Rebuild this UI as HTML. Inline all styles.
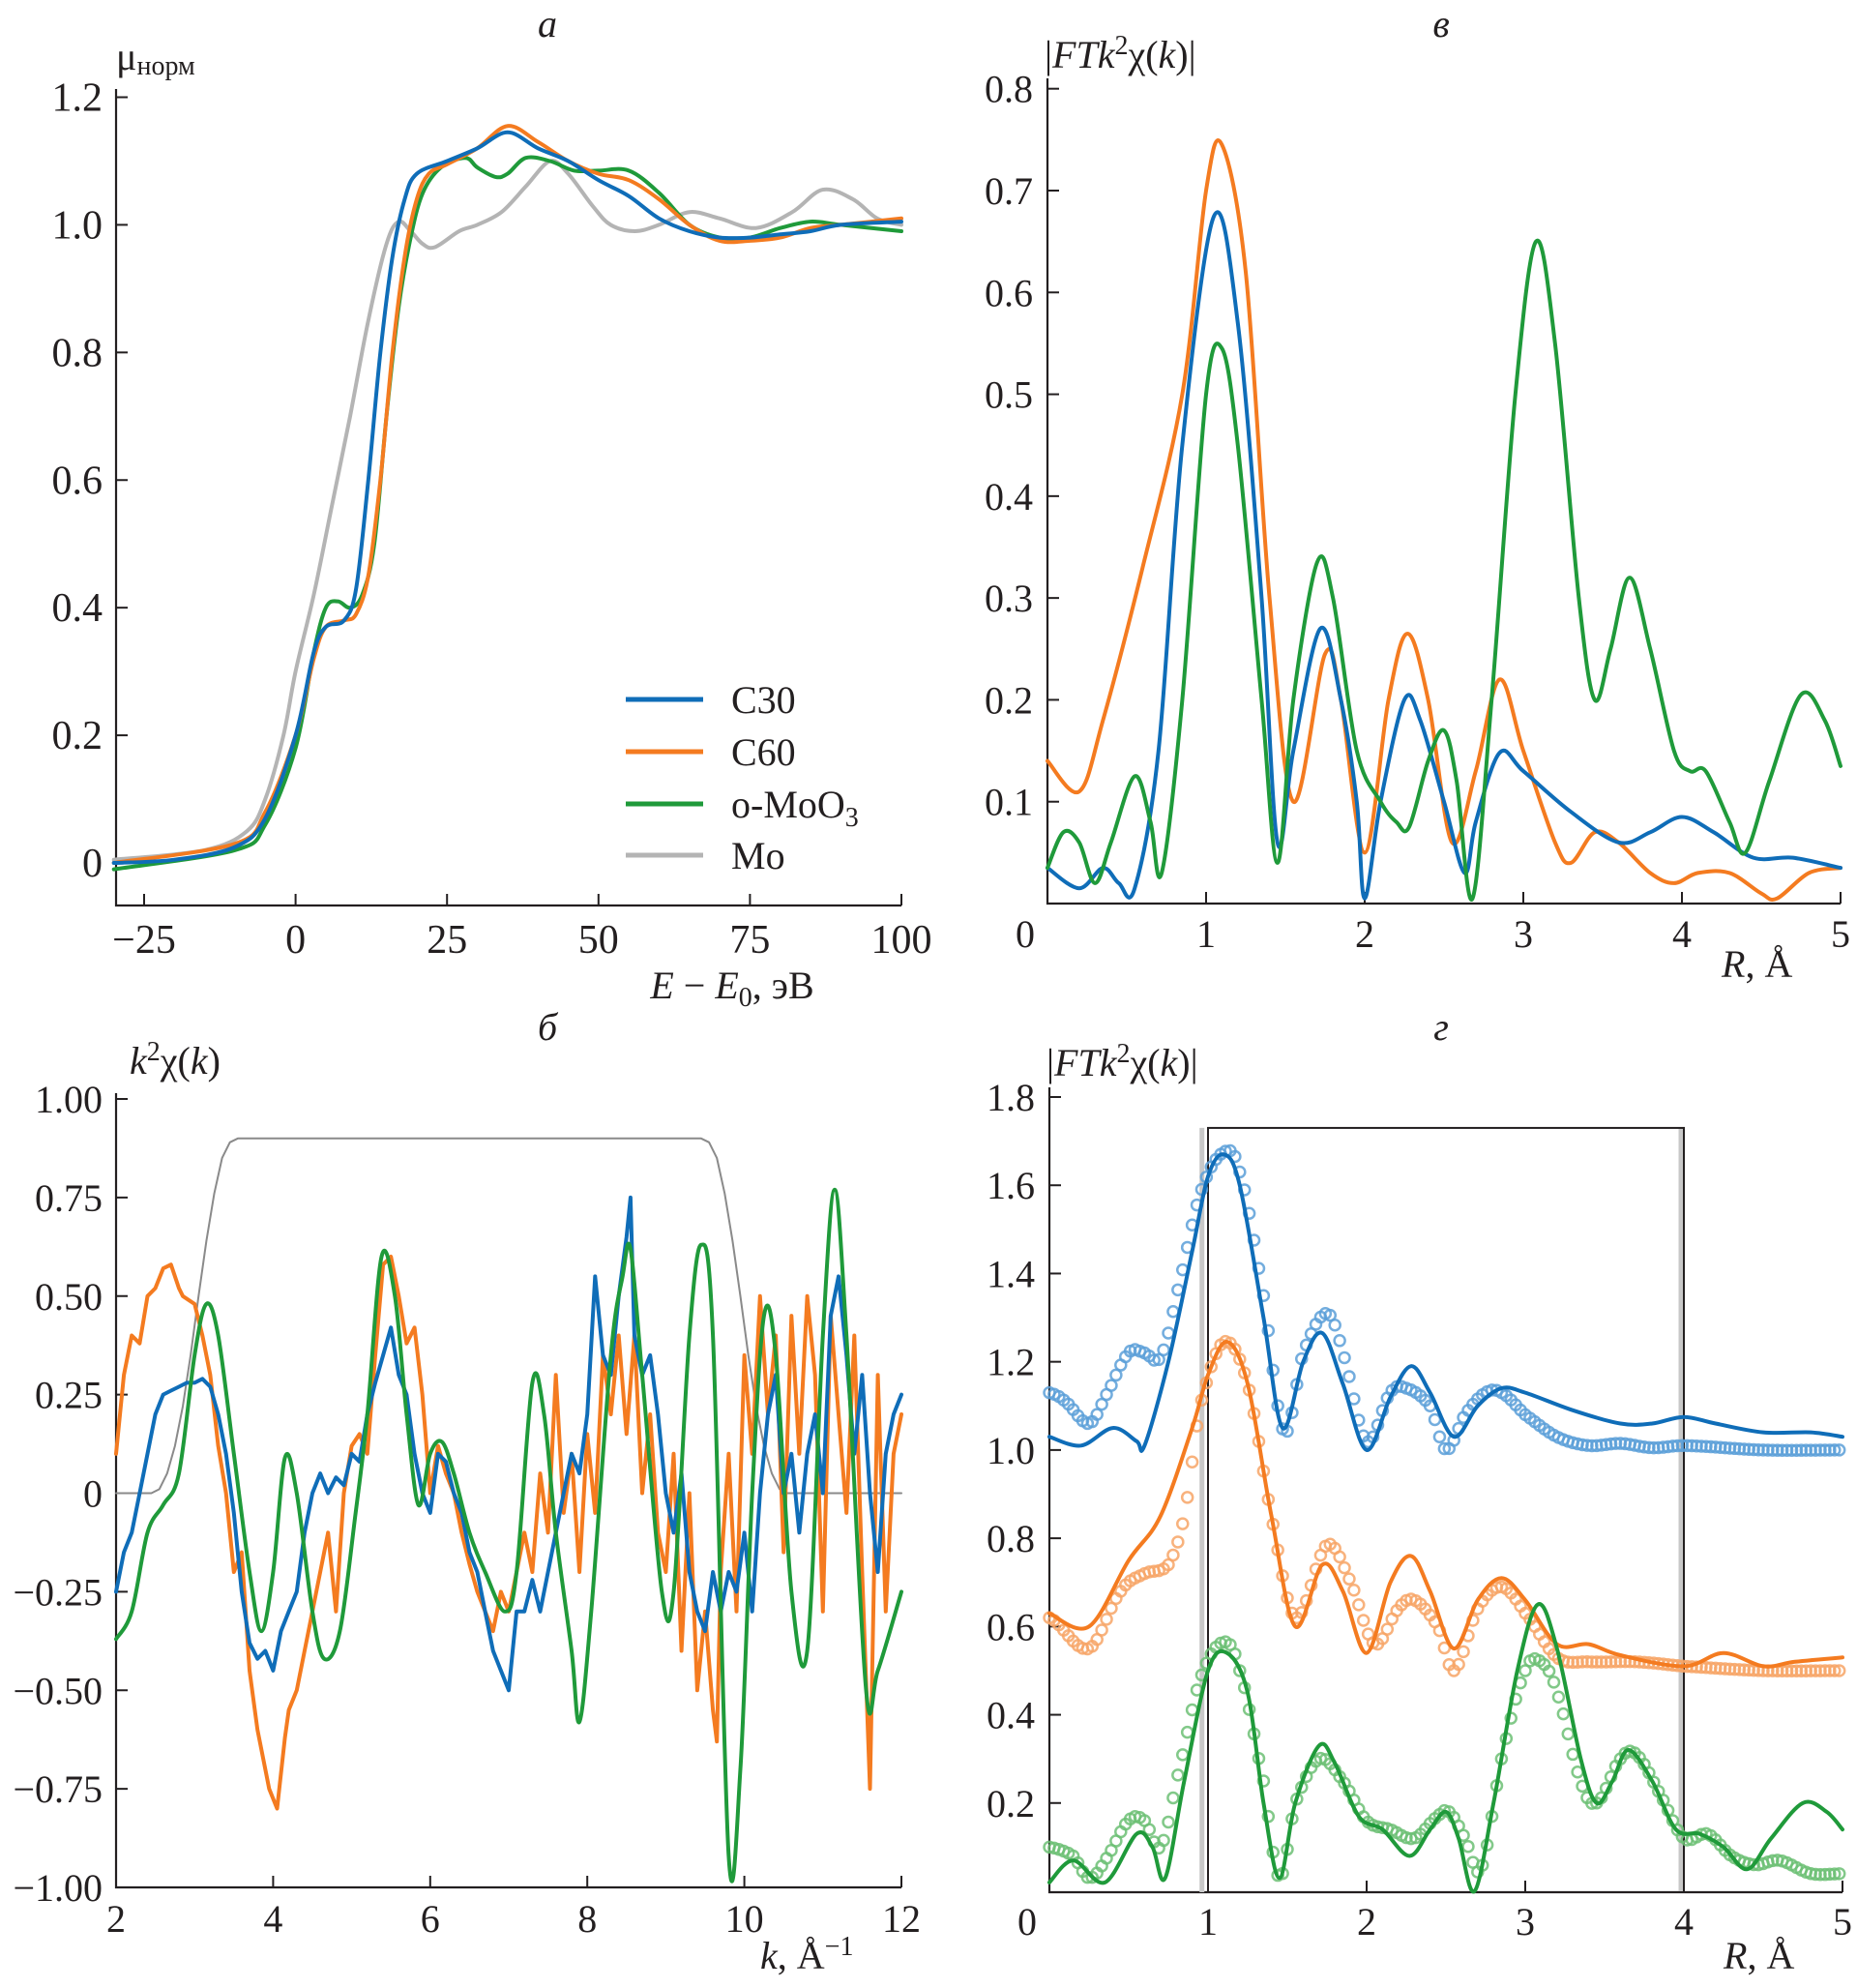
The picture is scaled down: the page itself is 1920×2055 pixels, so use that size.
<!DOCTYPE html>
<html><head><meta charset="utf-8"><style>
html,body{margin:0;padding:0;background:#fff}
svg{display:block}
text{font-family:"Liberation Serif","DejaVu Serif",serif;fill:#231f20}
</style></head><body>
<svg id="fig" width="1920" height="2055" viewBox="0 0 1920 2055" xmlns="http://www.w3.org/2000/svg" font-family="'Liberation Serif', 'DejaVu Serif', serif">
</svg>
<script>
// ---------- Panel a data ----------
const aTicksX=[-25,0,25,50,75,100];
const aTicksY=[0,0.2,0.4,0.6,0.8,1.0,1.2];
const aTickLabelsY=["0","0.2","0.4","0.6","0.8","1.0","1.2"];
const aC30E=[-30,-20,-10,-5,0,3,5,8,10,12,14,16,18,20,25,30,35,40,45,50,55,60,65,70,75,80,85,90,100];
const aC30Y=[0,0.005,0.025,0.07,0.2,0.33,0.37,0.38,0.43,0.6,0.8,0.95,1.04,1.08,1.1,1.12,1.145,1.12,1.1,1.07,1.045,1.01,0.99,0.98,0.98,0.985,0.99,1.0,1.005];
const aC60E=[-30,-10,-5,0,3,5,8,10,12,14,16,18,20,22,25,30,35,40,45,50,55,60,65,70,75,80,85,90,100];
const aC60Y=[0,0.03,0.08,0.2,0.32,0.37,0.38,0.39,0.45,0.6,0.8,0.95,1.04,1.08,1.095,1.12,1.155,1.13,1.1,1.08,1.07,1.04,1.0,0.975,0.975,0.98,0.995,1.0,1.01];
const aMoO3E=[-30,-10,-5,0,3,5,7,9,11,13,15,17,19,21,24,28,30,33,35,38,42,46,50,55,60,65,70,75,80,85,90,100];
const aMoO3Y=[-0.01,0.02,0.06,0.18,0.33,0.4,0.41,0.4,0.42,0.5,0.7,0.87,0.98,1.05,1.09,1.105,1.09,1.075,1.08,1.105,1.1,1.085,1.085,1.085,1.05,1.0,0.98,0.98,0.995,1.005,1.0,0.99];
const aMoE=[-30,-15,-8,-5,-2,0,3,6,9,12,15,17,19,21,23,27,30,34,38,42,45,49,52,56,60,65,70,76,82,87,92,96,100];
const aMoY=[0.005,0.02,0.05,0.1,0.2,0.3,0.42,0.56,0.7,0.85,0.97,1.005,0.99,0.97,0.965,0.99,1.0,1.02,1.06,1.1,1.08,1.03,1.0,0.99,1.0,1.02,1.01,0.995,1.02,1.055,1.04,1.01,1.0];
const aLegend=["C30","C60","o-MoO","Mo"];

// ---------- Panel в data ----------
const vTicksX=[1,2,3,4,5];
const vTicksY=[0.1,0.2,0.3,0.4,0.5,0.6,0.7,0.8];
const vC30R=[0,0.2,0.35,0.45,0.55,0.7,0.85,1.05,1.2,1.35,1.45,1.55,1.72,1.85,1.95,2.0,2.1,2.25,2.35,2.5,2.63,2.7,2.85,3.0,3.3,3.6,3.8,4.0,4.2,4.45,4.7,5];
const vC30Y=[0.035,0.015,0.035,0.02,0.015,0.15,0.45,0.675,0.57,0.3,0.06,0.15,0.27,0.2,0.1,0.005,0.1,0.2,0.18,0.1,0.03,0.08,0.148,0.13,0.09,0.06,0.07,0.085,0.07,0.045,0.045,0.035];
const vC60R=[0,0.2,0.35,0.6,0.85,1.0,1.1,1.25,1.4,1.55,1.75,1.85,2.0,2.15,2.27,2.4,2.55,2.7,2.85,3.0,3.2,3.3,3.45,3.6,3.8,3.95,4.1,4.3,4.5,4.6,4.8,5];
const vC60Y=[0.14,0.11,0.18,0.33,0.5,0.7,0.745,0.62,0.3,0.1,0.245,0.2,0.05,0.2,0.265,0.2,0.06,0.13,0.22,0.15,0.06,0.04,0.07,0.06,0.03,0.02,0.03,0.03,0.01,0.005,0.03,0.035];
const vMoO3R=[0,0.1,0.2,0.3,0.4,0.55,0.65,0.72,0.85,1.0,1.1,1.2,1.35,1.45,1.55,1.7,1.8,1.95,2.1,2.2,2.28,2.4,2.5,2.58,2.68,2.8,2.95,3.08,3.2,3.35,3.45,3.55,3.67,3.8,3.95,4.05,4.15,4.3,4.4,4.55,4.75,4.9,5];
const vMoO3Y=[0.035,0.07,0.06,0.02,0.06,0.125,0.08,0.03,0.2,0.5,0.545,0.45,0.2,0.04,0.2,0.335,0.3,0.15,0.1,0.08,0.075,0.14,0.17,0.12,0.005,0.2,0.5,0.65,0.55,0.3,0.2,0.25,0.32,0.25,0.15,0.13,0.13,0.08,0.05,0.12,0.205,0.18,0.135];

// ---------- Panel б data ----------
const bTicksX=[2,4,6,8,10,12];
const bTicksY=[-1,-0.75,-0.5,-0.25,0,0.25,0.5,0.75,1];
const bTickLabelsY=["\u22121.00","\u22120.75","\u22120.50","\u22120.25","0","0.25","0.50","0.75","1.00"];
const bWinK=[2,2.45,2.55,2.65,2.75,2.85,2.95,3.05,3.15,3.25,3.35,3.45,3.55,9.45,9.55,9.65,9.75,9.85,9.95,10.05,10.15,10.25,10.35,10.45,10.55,12];
const bWinY=[0,0,0.01,0.05,0.12,0.22,0.35,0.5,0.64,0.76,0.85,0.89,0.9,0.9,0.89,0.85,0.76,0.64,0.5,0.35,0.22,0.12,0.05,0.01,0,0];
const bMoO3K=[2,2.2,2.4,2.6,2.8,3.0,3.15,3.3,3.5,3.7,3.85,4.0,4.15,4.3,4.5,4.65,4.85,5.05,5.2,5.38,5.55,5.7,5.85,6.0,6.15,6.3,6.5,6.7,6.95,7.1,7.3,7.45,7.6,7.8,7.9,8.05,8.3,8.45,8.55,8.7,8.95,9.1,9.3,9.45,9.6,9.8,9.95,10.1,10.25,10.4,10.6,10.8,11.0,11.15,11.3,11.55,11.7,12];
const bMoO3Y=[-0.37,-0.3,-0.1,-0.03,0.05,0.35,0.48,0.4,0.1,-0.2,-0.35,-0.2,0.09,0.0,-0.3,-0.42,-0.35,-0.05,0.2,0.6,0.5,0.2,-0.03,0.1,0.13,0.05,-0.1,-0.2,-0.3,-0.2,0.28,0.2,-0.1,-0.4,-0.58,-0.3,0.35,0.55,0.62,0.3,-0.25,-0.25,0.4,0.63,0.4,-0.92,-0.7,0.0,0.45,0.35,-0.25,-0.4,0.4,0.77,0.4,-0.5,-0.45,-0.25];
const bC60K=[2,2.1,2.2,2.3,2.4,2.5,2.6,2.7,2.8,2.85,3.0,3.1,3.2,3.3,3.4,3.5,3.6,3.7,3.8,3.9,3.95,4.05,4.15,4.2,4.3,4.4,4.5,4.6,4.7,4.8,4.9,5.0,5.1,5.2,5.3,5.4,5.5,5.6,5.7,5.8,5.9,6.0,6.1,6.2,6.3,6.4,6.5,6.6,6.7,6.8,6.9,7.0,7.1,7.2,7.3,7.4,7.5,7.6,7.7,7.8,7.9,8.0,8.1,8.2,8.3,8.4,8.5,8.6,8.7,8.8,8.9,9.0,9.1,9.2,9.3,9.4,9.5,9.6,9.65,9.7,9.8,9.9,10.0,10.1,10.2,10.3,10.4,10.5,10.6,10.7,10.8,10.9,11.0,11.1,11.2,11.3,11.4,11.5,11.6,11.7,11.8,11.9,12];
const bC60Y=[0.1,0.3,0.4,0.38,0.5,0.52,0.57,0.58,0.52,0.5,0.48,0.4,0.3,0.12,0.0,-0.2,-0.15,-0.45,-0.6,-0.7,-0.75,-0.8,-0.62,-0.55,-0.5,-0.4,-0.3,-0.2,-0.1,-0.3,0.0,0.12,0.15,0.1,0.35,0.58,0.6,0.5,0.38,0.42,0.25,0.0,0.12,0.05,0.0,-0.1,-0.18,-0.25,-0.3,-0.35,-0.25,-0.3,-0.2,-0.1,-0.2,0.05,-0.1,0.3,-0.05,0.1,-0.2,0.15,-0.05,0.35,0.2,0.4,0.15,0.4,0.0,0.2,-0.1,-0.2,0.1,-0.4,0.0,-0.5,-0.3,-0.55,-0.63,-0.2,0.1,-0.3,0.35,0.1,0.5,0.2,0.4,-0.15,0.45,0.1,0.5,0.3,-0.3,0.45,0.2,-0.05,0.4,-0.2,-0.75,0.3,-0.3,0.1,0.2];
const bC30K=[2,2.1,2.2,2.3,2.4,2.5,2.6,2.7,2.8,2.9,3.0,3.1,3.2,3.3,3.4,3.5,3.6,3.7,3.8,3.9,4.0,4.1,4.2,4.3,4.4,4.5,4.6,4.7,4.8,4.9,5.0,5.1,5.2,5.3,5.4,5.5,5.6,5.7,5.8,5.9,6.0,6.1,6.2,6.3,6.4,6.5,6.6,6.7,6.8,6.9,7.0,7.1,7.2,7.3,7.4,7.5,7.6,7.7,7.8,7.9,8.0,8.1,8.2,8.3,8.4,8.5,8.55,8.6,8.7,8.8,8.9,9.0,9.1,9.2,9.3,9.4,9.5,9.6,9.7,9.8,9.9,10.0,10.1,10.2,10.3,10.4,10.5,10.6,10.7,10.8,10.9,11.0,11.1,11.2,11.3,11.4,11.5,11.6,11.7,11.8,11.9,12];
const bC30Y=[-0.25,-0.15,-0.1,0.0,0.1,0.2,0.25,0.26,0.27,0.28,0.28,0.29,0.27,0.2,0.1,-0.05,-0.25,-0.38,-0.42,-0.4,-0.45,-0.35,-0.3,-0.25,-0.1,0.0,0.05,0.0,0.04,0.02,0.1,0.08,0.2,0.28,0.35,0.42,0.3,0.25,0.1,0.0,-0.05,0.1,0.08,0.0,-0.05,-0.15,-0.2,-0.3,-0.4,-0.45,-0.5,-0.3,-0.3,-0.22,-0.3,-0.2,-0.1,0.0,0.1,0.05,0.2,0.55,0.35,0.3,0.5,0.65,0.75,0.4,0.3,0.35,0.2,0.0,-0.1,0.05,-0.2,-0.3,-0.35,-0.2,-0.3,-0.2,-0.25,-0.1,-0.3,0.0,0.2,0.3,0.0,0.1,-0.1,0.1,0.2,0.0,0.45,0.55,0.35,0.1,0.3,0.0,-0.2,0.1,0.2,0.25,0.05];

// ---------- Panel г data ----------
const gTicksX=[1,2,3,4,5];
const gTicksY=[0.2,0.4,0.6,0.8,1.0,1.2,1.4,1.6,1.8];
const gWindow=[1,4,1.73];
const gC30R=[0,0.2,0.4,0.55,0.6,0.75,0.9,1.0,1.1,1.2,1.35,1.47,1.6,1.72,1.85,2.0,2.15,2.28,2.4,2.55,2.7,2.85,3.0,3.3,3.6,3.8,4.0,4.2,4.5,4.8,5];
const gC30Y=[1.03,1.01,1.05,1.02,1.01,1.2,1.45,1.62,1.67,1.6,1.3,1.05,1.2,1.265,1.15,1.0,1.12,1.19,1.13,1.03,1.1,1.14,1.13,1.09,1.06,1.06,1.075,1.06,1.04,1.04,1.03];
const gC30fR=[0,0.1,0.25,0.35,0.5,0.6,0.7,0.8,0.95,1.1,1.2,1.35,1.48,1.6,1.75,1.85,2.0,2.15,2.25,2.4,2.5,2.62,2.75,2.85,3.0,3.2,3.4,3.6,3.8,4.0,4.5,5];
const gC30fY=[1.13,1.11,1.06,1.12,1.22,1.22,1.21,1.35,1.58,1.675,1.63,1.35,1.04,1.22,1.31,1.22,1.02,1.13,1.14,1.1,1.0,1.08,1.13,1.13,1.08,1.03,1.01,1.015,1.005,1.01,1.0,1.0];
const gC60R=[0,0.25,0.5,0.7,0.9,1.0,1.12,1.25,1.4,1.55,1.72,1.85,2.0,2.15,2.28,2.4,2.55,2.7,2.85,3.0,3.2,3.4,3.6,4.0,4.25,4.5,4.7,5];
const gC60Y=[0.63,0.6,0.75,0.85,1.05,1.17,1.245,1.15,0.85,0.6,0.74,0.68,0.54,0.7,0.76,0.68,0.55,0.66,0.71,0.66,0.56,0.56,0.535,0.51,0.54,0.51,0.52,0.53];
const gC60fR=[0,0.25,0.45,0.6,0.75,0.85,0.95,1.1,1.25,1.4,1.55,1.75,1.9,2.05,2.2,2.3,2.45,2.55,2.7,2.85,3.0,3.2,3.4,3.7,4.0,4.5,5];
const gC60fY=[0.62,0.55,0.68,0.72,0.74,0.85,1.1,1.245,1.15,0.85,0.62,0.785,0.7,0.56,0.64,0.66,0.6,0.5,0.64,0.69,0.63,0.53,0.52,0.52,0.51,0.5,0.5];
const gMoO3R=[0,0.15,0.35,0.55,0.65,0.73,0.85,1.0,1.12,1.25,1.35,1.45,1.55,1.7,1.8,1.95,2.1,2.27,2.4,2.5,2.58,2.68,2.8,2.95,3.08,3.2,3.35,3.45,3.55,3.65,3.8,3.95,4.1,4.25,4.4,4.55,4.75,4.9,5];
const gMoO3Y=[0.02,0.07,0.02,0.13,0.1,0.03,0.25,0.5,0.54,0.45,0.2,0.03,0.2,0.33,0.29,0.17,0.14,0.08,0.14,0.18,0.12,0.0,0.2,0.5,0.65,0.55,0.3,0.2,0.25,0.32,0.25,0.14,0.13,0.1,0.05,0.12,0.2,0.18,0.14];
const gMoO3fR=[0,0.15,0.25,0.35,0.5,0.6,0.7,0.8,0.95,1.1,1.2,1.35,1.45,1.55,1.7,1.85,2.0,2.15,2.3,2.45,2.52,2.62,2.72,2.85,3.0,3.1,3.2,3.35,3.45,3.6,3.7,3.85,4.0,4.15,4.3,4.45,4.6,4.8,5];
const gMoO3fY=[0.1,0.08,0.03,0.07,0.16,0.16,0.1,0.25,0.48,0.565,0.5,0.25,0.03,0.2,0.3,0.25,0.16,0.14,0.12,0.17,0.18,0.12,0.05,0.3,0.5,0.52,0.45,0.25,0.2,0.3,0.31,0.22,0.12,0.13,0.08,0.06,0.07,0.04,0.04];

const NS="http://www.w3.org/2000/svg";
const svg=document.getElementById('fig');
const C={blue:"#0f6db8",orange:"#f47b20",green:"#1f9a3a",gray:"#b4b4b4"};
const FONT="'Liberation Serif', 'DejaVu Serif', serif";
function mk(tag,attrs,parent){const e=document.createElementNS(NS,tag);for(const k in attrs)e.setAttribute(k,attrs[k]);(parent||svg).appendChild(e);return e;}
function lin(d0,d1,p0,p1){return v=>p0+(v-d0)*(p1-p0)/(d1-d0);}
function catmull(pts){let d="M"+pts[0][0].toFixed(1)+","+pts[0][1].toFixed(1);
 for(let i=0;i<pts.length-1;i++){const p0=pts[i-1]||pts[i],p1=pts[i],p2=pts[i+1],p3=pts[i+2]||p2;
  const c1=[p1[0]+(p2[0]-p0[0])/6,p1[1]+(p2[1]-p0[1])/6],c2=[p2[0]-(p3[0]-p1[0])/6,p2[1]-(p3[1]-p1[1])/6];
  d+="C"+c1.map(v=>v.toFixed(1))+" "+c2.map(v=>v.toFixed(1))+" "+p2[0].toFixed(1)+","+p2[1].toFixed(1);}
 return d;}
function polyD(pts){return "M"+pts.map(p=>p[0].toFixed(1)+","+p[1].toFixed(1)).join("L");}
function crEval(xs,ys,x){let i=0;while(i<xs.length-2&&x>xs[i+1])i++;
 const t=(x-xs[i])/(xs[i+1]-xs[i]);const y0=ys[i-1]!==undefined?ys[i-1]:ys[i],y1=ys[i],y2=ys[i+1],y3=ys[i+2]!==undefined?ys[i+2]:ys[i+1];
 return 0.5*((2*y1)+(-y0+y2)*t+(2*y0-5*y1+4*y2-y3)*t*t+(-y0+3*y1-3*y2+y3)*t*t*t);}
function series(g,xs,ys,X,Y,color,w,name,smooth){
 const pts=xs.map((x,i)=>[X(x),Y(ys[i])]);
 const p=mk('path',{d:smooth?catmull(pts):polyD(pts),fill:'none',stroke:color,'stroke-width':w,'stroke-linejoin':'round','stroke-linecap':'round'},g);
 
 
 return p;}
function txt(g,x,y,s,anchor,size,name,extra){const t=mk('text',Object.assign({x:x,y:y,'text-anchor':anchor||'middle','font-size':size||40,'font-family':FONT},extra||{}),g);t.innerHTML=s;
 
 
 return t;}
function axes(g,x0,x1,y0,y1,name){
 const a=mk('path',{d:`M${x0},${y1}L${x0},${y0}L${x1},${y0}`,fill:'none',stroke:'#231f20','stroke-width':2.2},g);
 
 }
function group(name){const g=mk('g',{});return g;}

// ===== Panel a =====
(function(){
 const g=group('panel-a');
 const X=lin(0,100,305.6,932), Y=lin(0,1.2,892,100.5);
 axes(g,120,932,936,92,'panel-a-axes');
 aTicksX.forEach(v=>{const l=mk('line',{x1:X(v),x2:X(v),y1:936,y2:924,stroke:'#231f20','stroke-width':2},g);
  txt(g,X(v),985,v<0?"\u2212"+(-v):String(v),'middle',42,'x-tick-label');});
 aTicksY.forEach((v,i)=>{const l=mk('line',{x1:120,x2:132,y1:Y(v),y2:Y(v),stroke:'#231f20','stroke-width':2},g);
  txt(g,106,Y(v)+14,aTickLabelsY[i],'end',42,'y-tick-label');});
 series(g,aMoE,aMoY,X,Y,C.gray,4,'series-mo',true);
 series(g,aMoO3E,aMoO3Y,X,Y,C.green,4,'series-moo3',true);
 series(g,aC60E,aC60Y,X,Y,C.orange,4,'series-c60',true);
 series(g,aC30E,aC30Y,X,Y,C.blue,4,'series-c30',true);
 const cols=[C.blue,C.orange,C.green,C.gray],ly=[723,777,831,884];
 aLegend.forEach((s,i)=>{const l=mk('line',{x1:647,x2:727,y1:ly[i],y2:ly[i],stroke:cols[i],'stroke-width':5},g);
  txt(g,756,ly[i]+14,s+(i==2?'<tspan font-size="28" dy="9">3</tspan>':''),'start',40,'legend-entry');});
 txt(g,566,38,'a','middle',40,'panel-a-title',{'font-style':'italic'});
 txt(g,120,72,'μ<tspan font-size="28" dy="5">норм</tspan>','start',40,'y-axis-title');
 txt(g,757,1032,'<tspan font-style="italic">E</tspan> \u2212 <tspan font-style="italic">E</tspan><tspan font-size="28" dy="8">0</tspan><tspan dy="-8">, эВ</tspan>','middle',40,'x-axis-title');
})();

// ===== Panel в =====
(function(){
 const g=group('panel-v');
 const X=lin(0,5,1083,1903), Y=lin(0,0.8,934,91.7);
 axes(g,1083,1903,934,81,'panel-v-axes');
 vTicksX.forEach(v=>{const l=mk('line',{x1:X(v),x2:X(v),y1:934,y2:922,stroke:'#231f20','stroke-width':2},g);
  txt(g,X(v),979,String(v),'middle',40,'x-tick-label');});
 txt(g,1060,979,'0','middle',40,'x-tick-label');
 vTicksY.forEach(v=>{const l=mk('line',{x1:1083,x2:1095,y1:Y(v),y2:Y(v),stroke:'#231f20','stroke-width':2},g);
  txt(g,1068,Y(v)+14,v.toFixed(1),'end',40,'y-tick-label');});
 series(g,vC60R,vC60Y,X,Y,C.orange,4,'series-c60',true);
 series(g,vC30R,vC30Y,X,Y,C.blue,4,'series-c30',true);
 series(g,vMoO3R,vMoO3Y,X,Y,C.green,4,'series-moo3',true);
 txt(g,1490,38,'в','middle',40,'panel-v-title',{'font-style':'italic'});
 txt(g,1080,70,'|<tspan font-style="italic">FTk</tspan><tspan font-size="28" dy="-14">2</tspan><tspan dy="14">χ(</tspan><tspan font-style="italic">k</tspan>)|','start',40,'y-axis-title');
 txt(g,1780,1010,'<tspan font-style="italic">R</tspan>, Å','start',40,'x-axis-title');
})();

// ===== Panel б =====
(function(){
 const g=group('panel-b');
 const X=lin(2,12,120,932), Y=lin(0,1,1543.5,1136);
 axes(g,120,932,1951,1130,'panel-b-axes');
 bTicksX.forEach(v=>{const l=mk('line',{x1:X(v),x2:X(v),y1:1951,y2:1939,stroke:'#231f20','stroke-width':2},g);
  txt(g,X(v),1997,String(v),'middle',40,'x-tick-label');});
 bTicksY.forEach((v,i)=>{const l=mk('line',{x1:120,x2:132,y1:Y(v),y2:Y(v),stroke:'#231f20','stroke-width':2},g);
  txt(g,106,Y(v)+14,bTickLabelsY[i],'end',40,'y-tick-label');});
 series(g,bWinK,bWinY,X,Y,'#8a8a8a',2,'window-function',false);
 series(g,bC60K,bC60Y,X,Y,C.orange,4,'series-c60',false);
 series(g,bC30K,bC30Y,X,Y,C.blue,4,'series-c30',false);
 series(g,bMoO3K,bMoO3Y,X,Y,C.green,4,'series-moo3',true);
 txt(g,566,1075,'б','middle',40,'panel-b-title',{'font-style':'italic'});
 txt(g,134,1110,'<tspan font-style="italic">k</tspan><tspan font-size="28" dy="-14">2</tspan><tspan dy="14">χ(</tspan><tspan font-style="italic">k</tspan>)','start',40,'y-axis-title');
 txt(g,786,2035,'<tspan font-style="italic">k</tspan>, Å<tspan font-size="28" dy="-14">\u22121</tspan>','start',40,'x-axis-title');
})();

// ===== Panel г =====
(function(){
 const g=group('panel-g');
 const X=lin(0,5,1085,1905), Y=lin(0,1.8,1955,1134);
 axes(g,1085,1905,1956,1124,'panel-g-axes');
 gTicksX.forEach(v=>{const l=mk('line',{x1:X(v),x2:X(v),y1:1956,y2:1944,stroke:'#231f20','stroke-width':2},g);
  txt(g,X(v),2000,String(v),'middle',40,'x-tick-label');});
 txt(g,1062,2000,'0','middle',40,'x-tick-label');
 gTicksY.forEach(v=>{const l=mk('line',{x1:1085,x2:1097,y1:Y(v),y2:Y(v),stroke:'#231f20','stroke-width':2},g);
  txt(g,1070,Y(v)+14,v.toFixed(1),'end',40,'y-tick-label');});
 [gWindow[0]-0.02,gWindow[1]].forEach(v=>{const l=mk('line',{x1:X(v)-3,x2:X(v)-3,y1:Y(gWindow[2]),y2:1956,stroke:'#c8c8c8','stroke-width':5},g);});
 const r=mk('rect',{x:X(gWindow[0]),y:Y(gWindow[2]),width:X(gWindow[1])-X(gWindow[0]),height:1956-Y(gWindow[2]),fill:'none',stroke:'#231f20','stroke-width':2},g);
 
 
 const fits=[[gC30fR,gC30fY,'#5a9fd8','c30'],[gC60fR,gC60fY,'#f7a566','c60'],[gMoO3fR,gMoO3fY,'#6cbf74','moo3']];
 fits.forEach(([xs,ys,col,nm])=>{
  for(let x=0;x<=5.0001;x+=0.03){const c=mk('circle',{cx:X(x),cy:Y(crEval(xs,ys,x)),r:5.5,fill:'none',stroke:col,'stroke-width':2.5,opacity:0.85},g);
   
   }
 });
 series(g,gC30R,gC30Y,X,Y,C.blue,4,'fit-c30',true);
 series(g,gC60R,gC60Y,X,Y,C.orange,4,'fit-c60',true);
 series(g,gMoO3R,gMoO3Y,X,Y,C.green,4,'fit-moo3',true);
 txt(g,1490,1075,'г','middle',40,'panel-g-title',{'font-style':'italic'});
 txt(g,1082,1112,'|<tspan font-style="italic">FTk</tspan><tspan font-size="28" dy="-14">2</tspan><tspan dy="14">χ(</tspan><tspan font-style="italic">k</tspan>)|','start',40,'y-axis-title');
 txt(g,1782,2035,'<tspan font-style="italic">R</tspan>, Å','start',40,'x-axis-title');
})();
</script>
</body></html>
